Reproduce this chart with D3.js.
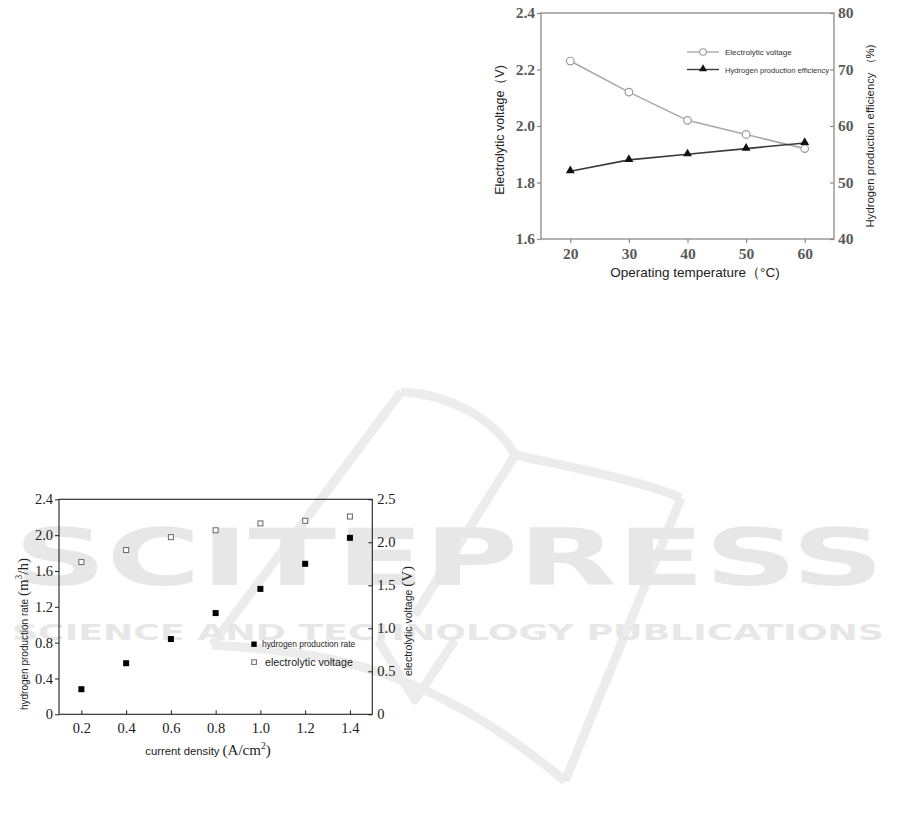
<!DOCTYPE html>
<html>
<head>
<meta charset="utf-8">
<script src="https://cdn.jsdelivr.net/npm/d3@7"></script>
<style>
  html, body { margin: 0; padding: 0; background: #ffffff; }
  svg { display: block; }
</style>
</head>
<body>
<script>
// ---------- DATA ----------
// Chart 1: operating temperature
const temperature = [20, 30, 40, 50, 60];
const voltageByTemp = [2.23, 2.12, 2.02, 1.97, 1.92];      // V (left axis)
const efficiencyByTemp = [52, 54, 55, 56, 57];             // % (right axis)
const tempTicks = [20, 30, 40, 50, 60];
const voltTicks1 = [1.6, 1.8, 2.0, 2.2, 2.4];
const effTicks = [40, 50, 60, 70, 80];

// Chart 2: current density
const currentDensity = [0.2, 0.4, 0.6, 0.8, 1.0, 1.2, 1.4];
const h2Rate = [0.28, 0.57, 0.84, 1.13, 1.40, 1.68, 1.97];          // m3/h (left axis)
const voltageByCurrent = [1.77, 1.91, 2.06, 2.14, 2.22, 2.25, 2.30]; // V (right axis)
const cdTicks = [0.2, 0.4, 0.6, 0.8, 1.0, 1.2, 1.4];
const rateTicks = [0, 0.4, 0.8, 1.2, 1.6, 2.0, 2.4];
const voltTicks2 = [0, 0.5, 1.0, 1.5, 2.0, 2.5];

// ---------- SETUP ----------
const W = 901, H = 817;
const SERIF = "'Liberation Serif', 'Times New Roman', serif";
const SANS = "'Liberation Sans', Arial, sans-serif";

const svg = d3.select("body").append("svg")
  .attr("width", W).attr("height", H)
  .attr("viewBox", `0 0 ${W} ${H}`);

// ---------- WATERMARK ----------
const wm = svg.append("g").attr("class", "watermark");
const wmColor = "#e7e7e7";
const logo = [
  "M 212,645 L 401,392",
  "M 401,392 C 450,394 496,420 515,455 C 565,466 640,480 681,498",
  "M 681,498 L 565,781",
  "M 212,645 C 330,652 430,668 565,781",
  "M 515,455 L 415,615",
  "M 378,640 L 415,700 L 455,640"
];
wm.selectAll("path").data(logo).join("path")
  .attr("d", d => d)
  .attr("fill", "none")
  .attr("stroke", "#ececec")
  .attr("stroke-width", 9)
  .attr("stroke-linejoin", "round")
  .attr("stroke-linecap", "butt");
wm.append("text")
  .attr("x", 14).attr("y", 585)
  .attr("textLength", 870).attr("lengthAdjust", "spacingAndGlyphs")
  .attr("font-family", "'DejaVu Sans', sans-serif").attr("font-weight", "bold")
  .attr("font-size", 78).attr("fill", wmColor)
  .text("SCITEPRESS");
wm.append("text")
  .attr("x", 12).attr("y", 640)
  .attr("textLength", 872).attr("lengthAdjust", "spacingAndGlyphs")
  .attr("font-family", "'DejaVu Sans', sans-serif").attr("font-weight", "bold")
  .attr("font-size", 20.5).attr("fill", wmColor)
  .text("SCIENCE AND TECHNOLOGY PUBLICATIONS");

// ---------- CHART 1 ----------
(function chart1() {
  const g = svg.append("g");
  const L = 541, R = 834, T = 13, B = 239;
  const x = d3.scaleLinear().domain([15, 65]).range([L, R]);
  const yL = d3.scaleLinear().domain([1.6, 2.4]).range([B, T]);
  const yR = d3.scaleLinear().domain([40, 80]).range([B, T]);
  const axisColor = "#8a8a8a";
  const labelColor = "#5a5a5a";

  function styleAxis(sel) {
    sel.select(".domain").remove();
    sel.selectAll(".tick line").attr("stroke", axisColor).attr("stroke-width", 1.2);
    sel.selectAll(".tick text").attr("fill", labelColor)
      .attr("font-family", SERIF).attr("font-size", 15.5).attr("font-weight", "bold");
  }

  g.append("g").attr("transform", `translate(0,${B})`)
    .call(d3.axisBottom(x).tickValues(tempTicks).tickFormat(d3.format("d")).tickSize(4).tickPadding(5))
    .call(styleAxis);
  g.append("g").attr("transform", `translate(${L},0)`)
    .call(d3.axisLeft(yL).tickValues(voltTicks1).tickFormat(d3.format(".1f")).tickSize(4).tickPadding(2))
    .call(styleAxis);
  g.append("g").attr("transform", `translate(${R},0)`)
    .call(d3.axisRight(yR).tickValues(effTicks).tickFormat(d3.format("d")).tickSize(-4).tickPadding(4))
    .call(styleAxis);

  g.append("rect").attr("x", L).attr("y", T).attr("width", R - L).attr("height", B - T)
    .attr("fill", "none").attr("stroke", axisColor).attr("stroke-width", 1.3);

  // voltage series
  const vData = temperature.map((t, i) => [t, voltageByTemp[i]]);
  g.append("path").datum(vData)
    .attr("d", d3.line().x(d => x(d[0])).y(d => yL(d[1])))
    .attr("fill", "none").attr("stroke", "#a8a8a8").attr("stroke-width", 1.6);
  // efficiency series
  const eData = temperature.map((t, i) => [t, efficiencyByTemp[i]]);
  g.append("path").datum(eData)
    .attr("d", d3.line().x(d => x(d[0])).y(d => yR(d[1])))
    .attr("fill", "none").attr("stroke", "#3a3a3a").attr("stroke-width", 1.6);

  g.selectAll("circle.v").data(vData).join("circle").attr("class", "v")
    .attr("cx", d => x(d[0])).attr("cy", d => yL(d[1])).attr("r", 3.8)
    .attr("fill", "#fff").attr("stroke", "#9a9a9a").attr("stroke-width", 1.2);
  const tri = d3.symbol().type(d3.symbolTriangle).size(34);
  g.selectAll("path.e").data(eData).join("path").attr("class", "e")
    .attr("transform", d => `translate(${x(d[0])},${yR(d[1]) - 0.5})`)
    .attr("d", tri).attr("fill", "#111");

  // legend
  const lg = g.append("g");
  const lx0 = 687, lx1 = 719, lmx = 703;
  lg.append("line").attr("x1", lx0).attr("x2", lx1).attr("y1", 52).attr("y2", 52)
    .attr("stroke", "#a8a8a8").attr("stroke-width", 1.4);
  lg.append("circle").attr("cx", lmx).attr("cy", 52).attr("r", 3.3)
    .attr("fill", "#fff").attr("stroke", "#9a9a9a").attr("stroke-width", 1.1);
  lg.append("text").attr("x", 725).attr("y", 55).attr("font-family", SANS)
    .attr("font-size", 8).attr("fill", "#333").text("Electrolytic voltage");
  lg.append("line").attr("x1", lx0).attr("x2", lx1).attr("y1", 69.5).attr("y2", 69.5)
    .attr("stroke", "#3a3a3a").attr("stroke-width", 1.4);
  lg.append("path").attr("transform", `translate(${lmx},69)`)
    .attr("d", d3.symbol().type(d3.symbolTriangle).size(28)).attr("fill", "#111");
  lg.append("text").attr("x", 725).attr("y", 72.5).attr("font-family", SANS)
    .attr("font-size", 7.6).attr("fill", "#333").text("Hydrogen production efficiency");

  // axis titles
  g.append("text").attr("x", 695).attr("y", 277).attr("text-anchor", "middle")
    .attr("font-family", SANS).attr("font-size", 13.5).attr("fill", "#222")
    .text("Operating temperature（°C)");
  g.append("text").attr("transform", "translate(500,130) rotate(-90)")
    .attr("text-anchor", "middle").attr("dominant-baseline", "central")
    .attr("font-family", SANS).attr("font-size", 12.5).attr("fill", "#222")
    .text("Electrolytic voltage（V)");
  g.append("text").attr("transform", "translate(870,136) rotate(-90)")
    .attr("text-anchor", "middle").attr("dominant-baseline", "central")
    .attr("font-family", SANS).attr("font-size", 11.3).attr("fill", "#222")
    .text("Hydrogen production efficiency （%)");
})();

// ---------- CHART 2 ----------
(function chart2() {
  const g = svg.append("g");
  const L = 59, R = 372.3, T = 499.3, B = 714.3;
  const x = d3.scaleLinear().domain([0.1, 1.5]).range([L, R]);
  const yL = d3.scaleLinear().domain([0, 2.4]).range([B, T]);
  const yR = d3.scaleLinear().domain([0, 2.5]).range([B, T]);
  const axisColor = "#222";
  const fmt = d => d === 0 ? "0" : d3.format(".1f")(d);

  function styleAxis(sel) {
    sel.select(".domain").remove();
    sel.selectAll(".tick line").attr("stroke", axisColor).attr("stroke-width", 1);
    sel.selectAll(".tick text").attr("fill", "#222")
      .attr("font-family", SERIF).attr("font-size", 14.5);
  }

  g.append("g").attr("transform", `translate(0,${B})`)
    .call(d3.axisBottom(x).tickValues(cdTicks).tickFormat(d3.format(".1f")).tickSize(-4).tickPadding(8))
    .call(styleAxis);
  g.append("g").attr("transform", `translate(${L},0)`)
    .call(d3.axisLeft(yL).tickValues(rateTicks).tickFormat(fmt).tickSize(4).tickPadding(2))
    .call(styleAxis);
  g.append("g").attr("transform", `translate(${R},0)`)
    .call(d3.axisRight(yR).tickValues(voltTicks2).tickFormat(fmt).tickSize(-4).tickPadding(5))
    .call(styleAxis);

  g.append("rect").attr("x", L).attr("y", T).attr("width", R - L).attr("height", B - T)
    .attr("fill", "none").attr("stroke", axisColor).attr("stroke-width", 1.1);

  const rData = currentDensity.map((c, i) => [c, h2Rate[i]]);
  const vData = currentDensity.map((c, i) => [c, voltageByCurrent[i]]);
  const fs = 6, os = 5;
  g.selectAll("rect.v").data(vData).join("rect").attr("class", "v")
    .attr("x", d => x(d[0]) - os / 2).attr("y", d => yR(d[1]) - os / 2)
    .attr("width", os).attr("height", os)
    .attr("fill", "#fff").attr("stroke", "#666").attr("stroke-width", 1);
  g.selectAll("rect.r").data(rData).join("rect").attr("class", "r")
    .attr("x", d => x(d[0]) - fs / 2).attr("y", d => yL(d[1]) - fs / 2)
    .attr("width", fs).attr("height", fs).attr("fill", "#000");

  // legend
  g.append("rect").attr("x", 251.3).attr("y", 641.5).attr("width", 5.4).attr("height", 5.4).attr("fill", "#000");
  g.append("text").attr("x", 262).attr("y", 647.3).attr("font-family", SANS)
    .attr("font-size", 8.4).attr("fill", "#222").text("hydrogen production rate");
  g.append("rect").attr("x", 251.8).attr("y", 659.8).attr("width", 4.6).attr("height", 4.6)
    .attr("fill", "#fff").attr("stroke", "#666").attr("stroke-width", 1);
  g.append("text").attr("x", 265).attr("y", 665.8).attr("font-family", SANS)
    .attr("font-size", 10.7).attr("fill", "#222").text("electrolytic voltage");

  // axis titles
  const xt = g.append("text").attr("x", 208).attr("y", 755).attr("text-anchor", "middle")
    .attr("fill", "#222");
  xt.append("tspan").attr("font-family", SANS).attr("font-size", 11.3).text("current density ");
  xt.append("tspan").attr("font-family", SERIF).attr("font-size", 15).text("(A/cm");
  xt.append("tspan").attr("font-family", SERIF).attr("font-size", 9.5).attr("dy", -6).text("2");
  xt.append("tspan").attr("font-family", SERIF).attr("font-size", 15).attr("dy", 6).text(")");

  const yt = g.append("text").attr("transform", "translate(28,634) rotate(-90)")
    .attr("text-anchor", "middle").attr("fill", "#222");
  yt.append("tspan").attr("font-family", SANS).attr("font-size", 10).text("hydrogen production rate ");
  yt.append("tspan").attr("font-family", SERIF).attr("font-size", 15).text("(m");
  yt.append("tspan").attr("font-family", SERIF).attr("font-size", 9.5).attr("dy", -6).text("3");
  yt.append("tspan").attr("font-family", SERIF).attr("font-size", 15).attr("dy", 6).text("/h)");

  const yr = g.append("text").attr("transform", "translate(412,621) rotate(-90)")
    .attr("text-anchor", "middle").attr("fill", "#222");
  yr.append("tspan").attr("font-family", SANS).attr("font-size", 10.5).text("electrolytic voltage ");
  yr.append("tspan").attr("font-family", SERIF).attr("font-size", 15).text("(V)");
})();
</script>
</body>
</html>
